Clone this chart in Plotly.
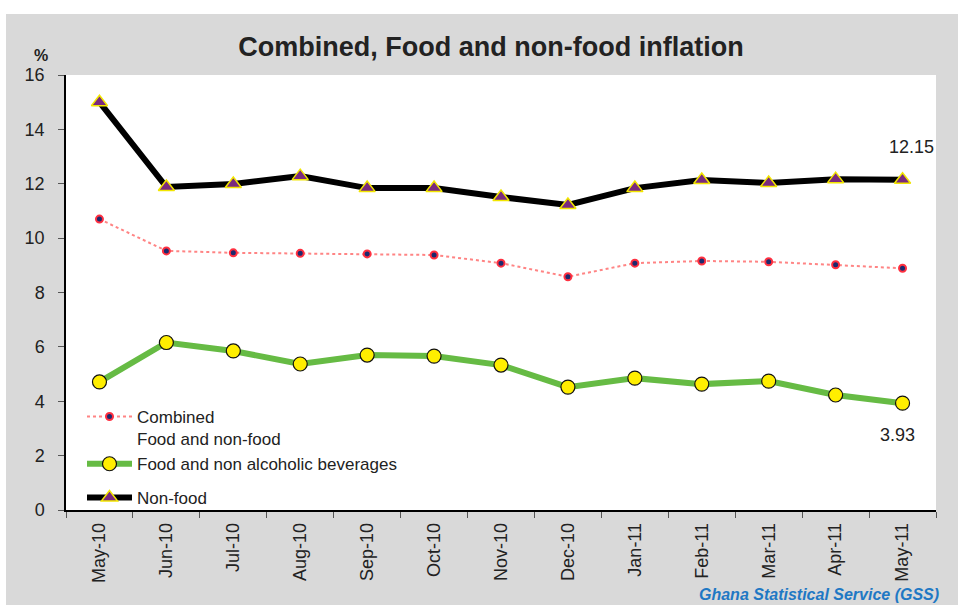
import plotly.graph_objects as go

months = ["May-10", "Jun-10", "Jul-10", "Aug-10", "Sep-10", "Oct-10", "Nov-10",
          "Dec-10", "Jan-11", "Feb-11", "Mar-11", "Apr-11", "May-11"]
combined = [10.70, 9.53, 9.46, 9.44, 9.42, 9.38, 9.08, 8.58, 9.08, 9.16, 9.13, 9.02, 8.89]
food = [4.71, 6.16, 5.85, 5.37, 5.70, 5.66, 5.33, 4.52, 4.85, 4.63, 4.74, 4.23, 3.93]
nonfood = [15.00, 11.88, 11.99, 12.28, 11.84, 11.84, 11.51, 11.22, 11.84, 12.14, 12.03, 12.17, 12.15]
y_ticks = [0, 2, 4, 6, 8, 10, 12, 14, 16]

FONT = "Liberation Sans, Arial, sans-serif"
W, H = 958, 605
ML, MR, MT, MB = 66, 22, 75, 95
PW, PH = W - ML - MR, H - MT - MB


def px_x(p):
    return (p - ML) / PW


def px_y(p):
    return (H - MB - p) / PH


fig = go.Figure()

fig.add_trace(go.Scatter(
    x=months, y=nonfood, name="Non-food", mode="lines+markers",
    line=dict(color="#000000", width=6),
    marker=dict(symbol="triangle-up", size=14, color="#7a2a7e",
                line=dict(color="#f2e600", width=1.5)),
    legend="legend2",
))
fig.add_trace(go.Scatter(
    x=months, y=combined, name="Combined<br>Food and non-food", mode="lines+markers",
    line=dict(color="rgba(255,80,80,0.7)", width=2, dash="dot"),
    marker=dict(symbol="circle", size=7, color="#1c2a6e",
                line=dict(color="#ff3040", width=2)),
    legend="legend",
))
fig.add_trace(go.Scatter(
    x=months, y=food, name="Food and non alcoholic beverages", mode="lines+markers",
    line=dict(color="#66bb44", width=6),
    marker=dict(symbol="circle", size=14, color="#ffee00",
                line=dict(color="#111111", width=1.2)),
    legend="legend",
))

fig.add_annotation(x=months[-1], y=nonfood[-1], text=f"{nonfood[-1]:.2f}",
                   showarrow=False, yshift=33, xshift=9,
                   font=dict(family=FONT, size=18, color="#222222"))
fig.add_annotation(x=months[-1], y=food[-1], text=f"{food[-1]:.2f}",
                   showarrow=False, yshift=-32, xshift=-5,
                   font=dict(family=FONT, size=18, color="#222222"))

# axis unit label
fig.add_annotation(xref="paper", yref="paper", x=px_x(32), y=px_y(45), text="<b>%</b>",
                   showarrow=False, font=dict(family=FONT, size=16, color="#222222"))
# source credit
fig.add_annotation(xref="paper", yref="paper", x=px_x(697), y=px_y(594),
                   xanchor="left", yanchor="middle",
                   text="<b><i>Ghana Statistical Service (GSS)</i></b>",
                   showarrow=False, font=dict(family=FONT, size=16, color="#1f78c4"))

# white strips framing the grey panel
fig.add_shape(type="rect", xref="paper", yref="paper",
              x0=px_x(-5), x1=px_x(W + 5), y0=px_y(14), y1=px_y(-5),
              fillcolor="white", line=dict(width=0), layer="below")
fig.add_shape(type="rect", xref="paper", yref="paper",
              x0=px_x(-5), x1=px_x(6), y0=px_y(H + 5), y1=px_y(-5),
              fillcolor="white", line=dict(width=0), layer="below")

fig.update_layout(
    width=W, height=H,
    margin=dict(l=ML, r=MR, t=MT, b=MB),
    paper_bgcolor="#d9d9d9",
    plot_bgcolor="white",
    font=dict(family=FONT, size=17, color="#222222"),
    title=dict(text="<b>Combined, Food and non-food inflation</b>",
               x=491 / W, xanchor="center", y=1 - 47 / H, yanchor="middle",
               font=dict(family=FONT, size=27, color="#222222")),
    legend=dict(x=px_x(82), y=px_y(399), xanchor="left", yanchor="top",
                bgcolor="rgba(0,0,0,0)", valign="top", itemwidth=45,
                traceorder="normal", tracegroupgap=0,
                font=dict(family=FONT, size=17, color="#222222")),
    legend2=dict(x=px_x(82), y=px_y(498), xanchor="left", yanchor="middle",
                 bgcolor="rgba(0,0,0,0)", itemwidth=45,
                 font=dict(family=FONT, size=17, color="#222222")),
    showlegend=True,
)

fig.update_xaxes(
    type="category", categoryorder="array", categoryarray=months,
    range=[-0.5, len(months) - 0.5],
    showgrid=False, showline=True, linecolor="#000000", linewidth=1.5,
    ticks="outside", tickson="boundaries", ticklen=6, tickcolor="#555555",
    tickangle=-90, ticklabelstandoff=4,
    tickfont=dict(family=FONT, size=18, color="#222222"),
    zeroline=False, fixedrange=True,
)
fig.update_yaxes(
    range=[0, 16], tickvals=y_ticks, showgrid=False, zeroline=False,
    showline=True, linecolor="#000000", linewidth=1.5,
    ticks="outside", ticklen=6, tickcolor="#555555", ticklabelstandoff=10,
    tickfont=dict(family=FONT, size=18, color="#222222"), fixedrange=True,
)

fig.write_html("out.html")
